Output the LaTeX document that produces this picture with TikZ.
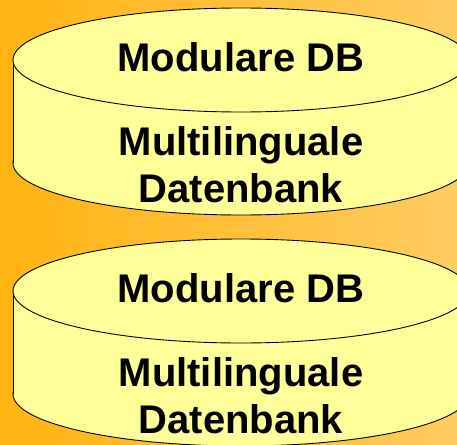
\documentclass[tikz,border=0pt]{standalone}
\usepackage{fontspec}
\setmainfont{Liberation Sans}
\definecolor{bgleft}{HTML}{FFB412}
\definecolor{bgright}{HTML}{FFCC60}
\definecolor{dbyellow}{HTML}{FFFF99}

\begin{document}
\begin{tikzpicture}[x=1pt,y=-1pt,
    dbside/.style={fill=dbyellow,draw=black,line width=0.9pt},
    dbtext/.style={font=\fontsize{40}{47}\selectfont\bfseries,align=center,inner sep=0pt}]
    \useasboundingbox(0,0)rectangle(457,444);
    \clip(0,0)rectangle(457,444);
    \shade[left color=bgleft,right color=bgright](0,0)rectangle(457,444);

    % upper database
    \filldraw[dbside](241,163)ellipse[x radius=228,y radius=52];
    \fill[dbyellow](13,60)rectangle(469,163);
    \draw[line width=0.9pt](13,60)--(13,163);
    \filldraw[dbside](241,60)ellipse[x radius=228,y radius=52];
    \node[dbtext](modA)at(241,57){Modulare DB};
    \node[dbtext](multiA)at(241,164.5){Multilinguale\\Datenbank};

    % lower database
    \filldraw[dbside](241,394)ellipse[x radius=228,y radius=52];
    \fill[dbyellow](13,291)rectangle(469,394);
    \draw[line width=0.9pt](13,291)--(13,394);
    \filldraw[dbside](241,291)ellipse[x radius=228,y radius=52];
    \node[dbtext](modB)at(241,288){Modulare DB};
    \node[dbtext](multiB)at(241,395.5){Multilinguale\\Datenbank};
\end{tikzpicture}
\end{document}
